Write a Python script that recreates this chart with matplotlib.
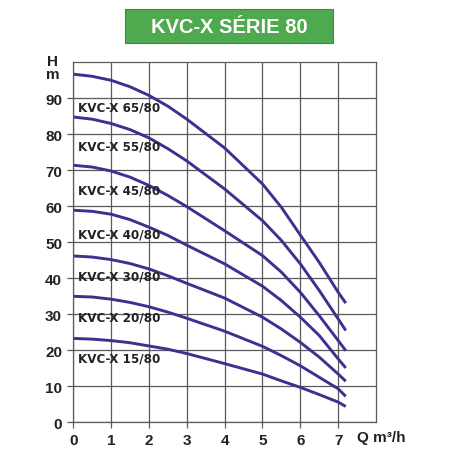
import matplotlib
matplotlib.use("Agg")
import matplotlib.pyplot as plt
from matplotlib import font_manager
from matplotlib.patches import Rectangle

# ---- data ----
Q = [0, 0.5, 1, 1.5, 2, 2.5, 3, 4, 5, 5.5, 6, 6.5, 7, 7.2]
models = ["KVC-X 65/80", "KVC-X 55/80", "KVC-X 45/80", "KVC-X 40/80",
          "KVC-X 30/80", "KVC-X 20/80", "KVC-X 15/80"]
H_65 = [96.7, 96.1, 95.0, 93.2, 90.8, 87.8, 84.2, 76.2, 66.2, 59.7, 52.0, 44.4, 36.1, 33.1]
H_55 = [84.8, 84.2, 83.0, 81.3, 79.0, 76.0, 72.6, 64.8, 56.0, 50.5, 44.0, 36.6, 28.7, 25.5]
H_45 = [71.4, 70.9, 69.8, 68.1, 65.8, 63.0, 59.9, 53.2, 46.3, 41.7, 36.1, 29.6, 22.7, 19.9]
H_40 = [58.9, 58.6, 57.8, 56.3, 54.2, 51.9, 49.2, 44.0, 37.8, 33.8, 29.2, 24.1, 17.6, 15.1]
H_30 = [46.2, 45.9, 45.2, 44.1, 42.6, 40.7, 38.6, 34.5, 29.2, 25.9, 22.2, 18.1, 13.4, 11.4]
H_20 = [35.0, 34.8, 34.2, 33.3, 32.1, 30.6, 28.9, 25.3, 21.1, 18.5, 15.7, 12.5, 9.3, 7.2]
H_15 = [23.3, 23.1, 22.7, 22.1, 21.2, 20.3, 19.1, 16.3, 13.4, 11.5, 9.7, 7.7, 5.6, 4.4]
label_y = [87.6, 76.7, 64.5, 52.3, 40.7, 29.3, 17.8]
x_ticks = [0, 1, 2, 3, 4, 5, 6, 7]
y_ticks = [0, 10, 20, 30, 40, 50, 60, 70, 80, 90]

plt.rcParams["font.family"] = ["Liberation Sans", "DejaVu Sans"]

# a narrow bold face for the curve names, if one is around
names = {(f.name, f.stretch) for f in font_manager.fontManager.ttflist}
if any(n == "Liberation Sans Narrow" for n, _ in names):
    lab_font = dict(family=["Liberation Sans Narrow", "DejaVu Sans"], fontsize=11)
elif ("DejaVu Sans", "condensed") in names:
    lab_font = dict(family=["DejaVu Sans"], fontstretch="condensed", fontsize=9.5)
else:
    lab_font = dict(family=["Liberation Sans", "DejaVu Sans"], fontsize=9)

LINE_C = "#3d3190"
GRID_C = "#5a5a5a"
TXT_C = "#222222"

fig = plt.figure(figsize=(4.52, 4.52), dpi=100)
ax = fig.add_axes([0.162, 0.0635, 0.670, 0.7965])

for H in [H_65, H_55, H_45, H_40, H_30, H_20, H_15]:
    ax.plot(Q, H, color=LINE_C, linewidth=2.1, solid_capstyle="butt",
            solid_joinstyle="round")

for name, yl in zip(models, label_y):
    ax.text(0.13, yl, name, fontweight="bold", color=TXT_C,
            va="center", ha="left", **lab_font)

ax.set_xlim(0, 8)
ax.set_ylim(0, 100)
ax.set_xticks(x_ticks)
ax.set_yticks(y_ticks)
ax.grid(True, color=GRID_C, linewidth=0.9)
ax.set_axisbelow(True)
ax.tick_params(length=4, width=0.9, color=GRID_C, labelsize=11, pad=4)
for lbl in ax.get_xticklabels() + ax.get_yticklabels():
    lbl.set_fontweight("bold")
    lbl.set_color(TXT_C)
for s in ax.spines.values():
    s.set_color(GRID_C)
    s.set_linewidth(0.9)

# axis captions
fig.text(0.117, 0.862, "H", fontsize=11, fontweight="bold", color=TXT_C,
         ha="center", va="center")
fig.text(0.117, 0.834, "m", fontsize=11, fontweight="bold", color=TXT_C,
         ha="center", va="center")
fig.text(0.79, 0.031, "Q m³/h", fontsize=11, fontweight="bold", color=TXT_C,
         ha="left", va="center")

# title box
fig.patches.append(Rectangle((0.277, 0.902), 0.460, 0.075, transform=fig.transFigure,
                             facecolor="#4ea94f", edgecolor="#3f8a3f", linewidth=0.8))
fig.text(0.507, 0.940, "KVC-X SÉRIE 80", fontsize=14.5, fontweight="bold",
         color="white", ha="center", va="center")

fig.savefig("out.png", dpi=100)
